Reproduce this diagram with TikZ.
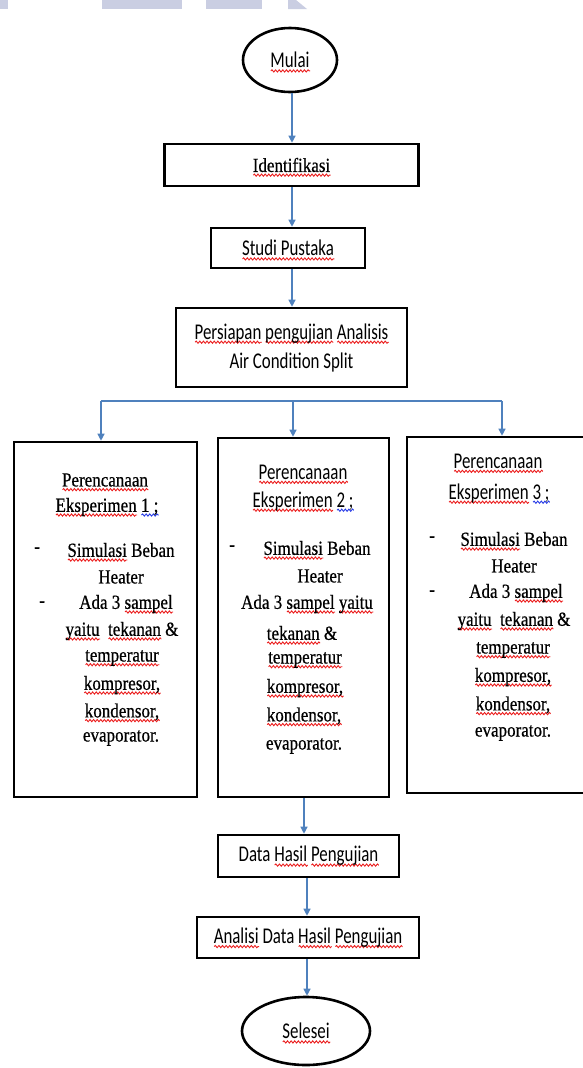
\documentclass[tikz,border=0pt]{standalone}
\usepackage{fontspec}
\setmainfont{Liberation Serif}
\newfontfamily\serf[FakeStretch=0.85,FakeBold=0.6]{Liberation Serif}
\newfontfamily\calib[FakeStretch=0.75]{Carlito}
\usetikzlibrary{arrows.meta,shapes.geometric,decorations.pathmorphing}
\definecolor{arrblue}{RGB}{79,129,189}
\definecolor{spred}{RGB}{235,30,30}
\definecolor{spblue}{RGB}{40,60,230}
\definecolor{wmark}{RGB}{202,206,226}
\newdimen\sqwidth
\newsavebox\sqbox
\newcommand\squig[2]{\leavevmode\sbox\sqbox{#2}\sqwidth=\wd\sqbox
  \rlap{\smash{\tikz[baseline=0pt,x=1pt,y=1pt]\draw[#1,line width=0.9pt,decorate,
     decoration={snake,amplitude=1.1pt,segment length=3.6pt}] (0pt,-3.2pt) -- (\sqwidth,-3.2pt);}}\usebox\sqbox}
\newcommand\rw[1]{\squig{spred}{#1}}
\newcommand\bw[1]{\squig{spblue}{#1}}
\tikzset{
  box/.style={draw=black, line width=2.6pt, rectangle, inner sep=0pt},
  oval/.style={draw=black, line width=2.6pt, ellipse, inner sep=0pt},
  arr/.style={draw=arrblue, line width=1.2pt, -{Triangle[length=7pt,width=7pt]}},
  bus/.style={draw=arrblue, line width=1.2pt},
  sans/.style={font=\calib\fontsize{22.5}{29}\selectfont},
  ser/.style={font=\serf\fontsize{20}{27}\selectfont},
  ln/.style={inner sep=0pt, anchor=center},
}
\begin{document}
\begin{tikzpicture}[x=1pt,y=-1pt]
\useasboundingbox (0,0) rectangle (583,1068);
\clip (0,0) rectangle (583,1068);
% watermark remnants
\fill[wmark] (0,0) rectangle (8,9);
\fill[wmark] (102,0) rectangle (182,9);
\fill[wmark] (206,0) rectangle (262,9);
\fill[wmark] (288,0) -- (296,0) -- (307,9) -- (288,9) -- cycle;

\coordinate (spine) at (292,0);
% top chain
\node[oval, sans, minimum width=94pt, minimum height=64pt] (mulai) at (290,60) {\rw{Mulai}};
\node[box, ser, minimum width=254pt, minimum height=42pt] (ident) at (291.5,165) {\rw{Identifikasi}};
\node[box, sans, minimum width=154pt, minimum height=40pt] (studi) at (288,248) {\rw{Studi Pustaka}};
\node[box, sans, minimum width=231pt, minimum height=79pt, align=center] (persiapan) at (291.5,347.5)
  {\rw{Persiapan} \rw{pengujian} \rw{Analisis}\\ Air Condition Split};

\draw[arr] (mulai.south -| spine) -- (ident.north -| spine);
\draw[arr] (ident.south -| spine) -- (studi.north -| spine);
\draw[arr] (studi.south -| spine) -- (persiapan.north -| spine);

% three experiment boxes
\node[box, minimum width=183pt, minimum height=355pt] (lbox) at (105.5,619.5) {};
\node[box, minimum width=171pt, minimum height=359pt] (mbox) at (303.5,617.5) {};
\node[box, minimum width=183pt, minimum height=356pt] (rbox) at (498.5,615) {};

\coordinate (bl) at (101,401);
\coordinate (bm) at (293,401);
\coordinate (br) at (502,401);
\draw[bus] (bl) -- (br);
\draw[arr] (bl) -- (lbox.north -| bl);
\draw[arr] (bm) -- (mbox.north -| bm);
\draw[arr] (br) -- (rbox.north -| br);

% left box text
\node[ln, ser] (l1) at (105,480) {\rw{Perencanaan}};
\node[ln, ser] (l2) at (107,507) {\rw{Eksperimen} \bw{1 ;}};
\node[ln, ser] (l3d) at (37,550) {-};
\node[ln, ser] (l3) at (121,550) {\rw{Simulasi} Beban};
\node[ln, ser] (l4) at (121,577) {Heater};
\node[ln, ser] (l5d) at (42,604) {-};
\node[ln, ser] (l5) at (126,604) {Ada 3 \rw{sampel}};
\node[ln, ser] (l6) at (122,631) {\rw{yaitu}\ \ \rw{tekanan} \&};
\node[ln, ser] (l7) at (122,658) {\rw{temperatur}};
\node[ln, ser] (l8) at (122,685) {\rw{kompresor,}};
\node[ln, ser] (l9) at (122,712) {\rw{kondensor,}};
\node[ln, ser] (l10) at (121,738) {evaporator.};

% middle box text
\node[ln, sans] (m1) at (303,472) {\rw{Perencanaan}};
\node[ln, sans] (m2) at (303,501) {\rw{Eksperimen} \bw{2 ;}};
\node[ln, ser] (m3d) at (232,548) {-};
\node[ln, ser] (m3) at (317,548) {\rw{Simulasi} Beban};
\node[ln, ser] (m4) at (320,576) {Heater};
\node[ln, ser] (m5) at (307,604) {Ada 3 \rw{sampel} \rw{yaitu}};
\node[ln, ser] (m6) at (302,633) {\rw{tekanan} \&};
\node[ln, ser] (m7) at (305,660) {\rw{temperatur}};
\node[ln, ser] (m8) at (305,688) {\rw{kompresor,}};
\node[ln, ser] (m9) at (304,716) {\rw{kondensor,}};
\node[ln, ser] (m10) at (304,746) {evaporator.};

% right box text
\node[ln, sans] (r1) at (498,461) {\rw{Perencanaan}};
\node[ln, sans] (r2) at (499,493) {\rw{Eksperimen} \bw{3 ;}};
\node[ln, ser] (r3d) at (432,539) {-};
\node[ln, ser] (r3) at (514,539) {\rw{Simulasi} Beban};
\node[ln, ser] (r4) at (514,566) {Heater};
\node[ln, ser] (r5d) at (432,593) {-};
\node[ln, ser] (r5) at (516,593) {Ada 3 \rw{sampel}};
\node[ln, ser] (r6) at (514,621) {\rw{yaitu}\ \ \rw{tekanan} \&};
\node[ln, ser] (r7) at (513,650) {\rw{temperatur}};
\node[ln, ser] (r8) at (513,677) {\rw{kompresor,}};
\node[ln, ser] (r9) at (513,705) {\rw{kondensor,}};
\node[ln, ser] (r10) at (513,733) {evaporator.};

% bottom chain
\coordinate (spine2) at (304,0);
\coordinate (spine3) at (307,0);
\node[box, sans, minimum width=181pt, minimum height=42pt] (data) at (308.5,856) {Data \rw{Hasil} \rw{Pengujian}};
\node[box, sans, minimum width=222pt, minimum height=41pt] (analisi) at (308,937.5) {\rw{Analisi} Data \rw{Hasil} \rw{Pengujian}};
\node[oval, sans, minimum width=128pt, minimum height=68pt] (selesei) at (306,1031) {\rw{Selesei}};

\draw[arr] (mbox.south -| spine2) -- (data.north -| spine2);
\draw[arr] (data.south -| spine3) -- (analisi.north -| spine3);
\draw[arr] (analisi.south -| spine3) -- (selesei.north -| spine3);
\end{tikzpicture}
\end{document}
